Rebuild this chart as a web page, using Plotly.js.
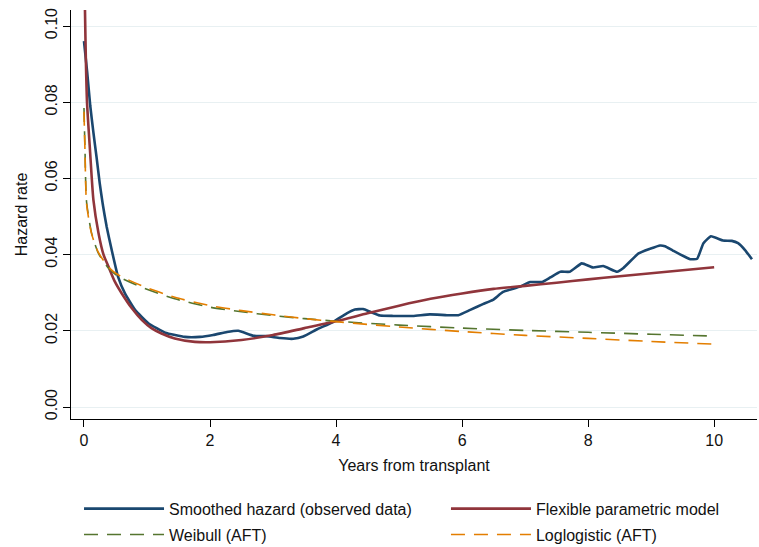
<!DOCTYPE html>
<html>
<head>
<meta charset="utf-8">
<script src="https://cdn.plot.ly/plotly-3.0.1.min.js"></script>
<style>html,body{margin:0;padding:0;background:#fff;}#chart{width:759px;height:547px;}</style>
</head>
<body>
<div id="chart"></div>
<script>
// Smoothed hazard (observed data)
const smoothT = [0, 0.05, 0.1, 0.15, 0.2, 0.25, 0.3, 0.36, 0.44, 0.54, 0.65, 0.81, 1.02, 1.29, 1.6, 1.84, 2.05, 2.27, 2.45, 2.69, 2.9, 3.11, 3.32, 3.48, 3.7, 3.95, 4.17, 4.3, 4.43, 4.54, 4.7, 4.91, 5.22, 5.49, 5.76, 5.94, 6.13, 6.33, 6.49, 6.65, 6.92, 7.08, 7.27, 7.4, 7.56, 7.71, 7.9, 8.08, 8.24, 8.46, 8.56, 8.8, 8.98, 9.14, 9.22, 9.35, 9.62, 9.73, 9.83, 9.95, 10.14, 10.28, 10.38, 10.49, 10.6];
const smoothH = [0.096, 0.088, 0.079, 0.072, 0.0655, 0.0587, 0.053, 0.0473, 0.0412, 0.0342, 0.0298, 0.0255, 0.0220, 0.0195, 0.0184, 0.0184, 0.0189, 0.0197, 0.0200, 0.0187, 0.0186, 0.0181, 0.0179, 0.0185, 0.0204, 0.0223, 0.0246, 0.0256, 0.0257, 0.0250, 0.0240, 0.0239, 0.0239, 0.0243, 0.0241, 0.0241, 0.0255, 0.0270, 0.0281, 0.0302, 0.0316, 0.0328, 0.0328, 0.0340, 0.0355, 0.0355, 0.0377, 0.0366, 0.0370, 0.0355, 0.0365, 0.0403, 0.0415, 0.0424, 0.0422, 0.0410, 0.0388, 0.0389, 0.0430, 0.0448, 0.0437, 0.0436, 0.0430, 0.0412, 0.0388];

// Flexible parametric model
const fpmT = [0.012, 0.016, 0.03, 0.048, 0.095, 0.15, 0.23, 0.31, 0.39, 0.49, 0.6, 0.76, 0.92, 1.07, 1.23, 1.44, 1.76, 2.0, 2.5, 3.0, 3.5, 4.0, 4.5, 5.0, 5.5, 6.0, 6.5, 7.0, 7.5, 8.0, 8.5, 9.0, 9.5, 10.0];
const fpmH = [0.110, 0.104, 0.091, 0.080, 0.0675, 0.0543, 0.0457, 0.0400, 0.0368, 0.0329, 0.0298, 0.0259, 0.0228, 0.0207, 0.0193, 0.0180, 0.0171, 0.0170, 0.0176, 0.0189, 0.0207, 0.0225, 0.0246, 0.0266, 0.0284, 0.0298, 0.0310, 0.0318, 0.0326, 0.0335, 0.0343, 0.0351, 0.0359, 0.0367];

// Parametric AFT models
const aftT = [0, 0.016, 0.04, 0.12, 0.23, 0.39, 0.54, 0.92, 1.44, 2.0, 2.5, 3.0, 3.5, 4.0, 5.0, 6.0, 7.0, 8.0, 9.0, 10.0];
const weibullH = [0.0785, 0.0675, 0.0540, 0.0457, 0.0403, 0.0364, 0.0343, 0.0314, 0.0284, 0.0262, 0.0250, 0.0240, 0.0232, 0.0225, 0.0215, 0.0207, 0.0201, 0.0196, 0.0191, 0.0186];
const loglogH = [0.0775, 0.0670, 0.0535, 0.0455, 0.0405, 0.0367, 0.0347, 0.0318, 0.0288, 0.0266, 0.0253, 0.0242, 0.0232, 0.0224, 0.0210, 0.0198, 0.0188, 0.0180, 0.0172, 0.0165];

const xTicks = [0, 2, 4, 6, 8, 10];
const yTicks = [0, 0.02, 0.04, 0.06, 0.08, 0.10];
const yTickLabels = ['0.00', '0.02', '0.04', '0.06', '0.08', '0.10'];

const FONT = 'Liberation Sans, Arial, sans-serif';
const FS = 16;

const traces = [
  {x: smoothT, y: smoothH, type: 'scatter', mode: 'lines', name: 'Smoothed hazard (observed data)',
   legend: 'legend', legendgroup: 'a',
   line: {color: '#1a476f', width: 2.6, shape: 'spline', smoothing: 0.4}},
  {x: fpmT, y: fpmH, type: 'scatter', mode: 'lines', name: 'Flexible parametric model',
   legend: 'legend2', legendgroup: 'b',
   line: {color: '#90353b', width: 2.6, shape: 'spline', smoothing: 0.6}},
  {x: aftT, y: weibullH, type: 'scatter', mode: 'lines', name: 'Weibull (AFT)',
   legend: 'legend', legendgroup: 'c',
   line: {color: '#55752f', width: 1.6, dash: '14px,9px', shape: 'spline', smoothing: 0.6}},
  {x: aftT, y: loglogH, type: 'scatter', mode: 'lines', name: 'Loglogistic (AFT)',
   legend: 'legend2', legendgroup: 'd',
   line: {color: '#e37e00', width: 1.6, dash: '14px,9px', shape: 'spline', smoothing: 0.6}}
];

const legendCommon = {
  orientation: 'v', xanchor: 'left', yref: 'container', y: 0.101, yanchor: 'top',
  itemwidth: 80, tracegroupgap: 2,
  font: {family: FONT, size: FS, color: '#111'},
  bgcolor: 'rgba(0,0,0,0)'
};

const layout = {
  width: 759, height: 547,
  margin: {l: 71, r: 2, t: 10, b: 128, autoexpand: false},
  paper_bgcolor: '#ffffff', plot_bgcolor: '#ffffff',
  font: {family: FONT, size: FS, color: '#111'},
  showlegend: true,
  xaxis: {
    range: [-0.206, 10.68], tickvals: xTicks, ticktext: xTicks.map(String),
    showgrid: false, zeroline: false, showline: true, linecolor: '#000', linewidth: 1,
    ticks: 'outside', ticklen: 7, tickcolor: '#000',
    tickfont: {family: FONT, size: FS, color: '#111'},
    title: {text: 'Years from transplant', font: {family: FONT, size: FS, color: '#111'}, standoff: 11}
  },
  yaxis: {
    range: [-0.00315, 0.1042], tickvals: yTicks, ticktext: yTickLabels, tickangle: -90,
    showgrid: true, gridcolor: '#e8f0f2', gridwidth: 1, zeroline: false,
    showline: true, linecolor: '#000', linewidth: 1,
    ticks: 'outside', ticklen: 7, tickcolor: '#000',
    tickfont: {family: FONT, size: FS, color: '#111'},
    title: {text: 'Hazard rate', font: {family: FONT, size: FS, color: '#111'}, standoff: 10}
  },
  legend: Object.assign({}, legendCommon, {x: 0.0117}),
  legend2: Object.assign({}, legendCommon, {x: 0.5466})
};

Plotly.newPlot('chart', traces, layout, {displayModeBar: false, staticPlot: true});
</script>
</body>
</html>
